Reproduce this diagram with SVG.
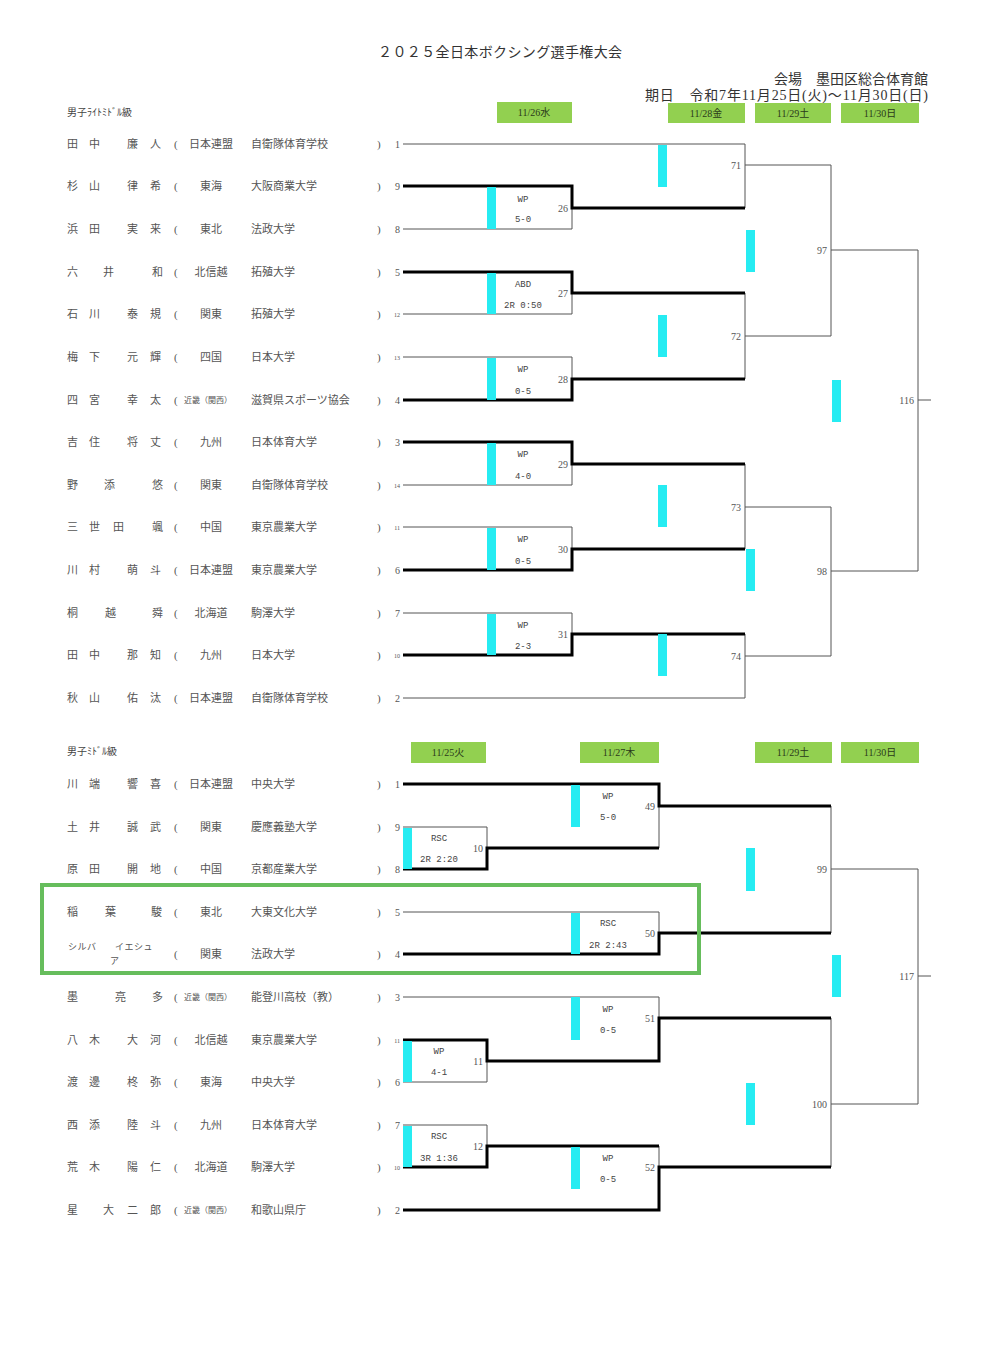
<svg xmlns="http://www.w3.org/2000/svg" width="985" height="1355" viewBox="0 0 985 1355">
<style>
text{font-family:"Liberation Serif","Noto Sans CJK JP",serif;fill:#555}
.nm{font-size:11px}
.p{font-size:11px}
.rg{font-size:11px;text-anchor:middle}
.rs{font-size:8px;text-anchor:middle}
.sc{font-size:11px}
.sd{font-size:10px;text-anchor:end}
.sd2{font-size:6px;text-anchor:end}
.ml{font-family:"Liberation Mono","Noto Sans CJK JP",monospace;font-size:9px;text-anchor:middle;fill:#444}
.mn{font-size:10px;text-anchor:end;fill:#555}
.dt{font-size:10px;text-anchor:middle;fill:#2a3a1a}
.db{fill:#92d050}
.thin{fill:none;stroke:#555;stroke-width:1}
.thick{fill:none;stroke:#000;stroke-width:3}
.cy{fill:#26ecf2}
.hdr{font-size:14px;fill:#333}
.cls{font-size:10px;fill:#444}
</style>
<rect width="985" height="1355" fill="#fff"/>

<g id="header">
<text class="hdr" x="378" y="57" textLength="244">２０２５全日本ボクシング選手権大会</text>
<text class="hdr" x="928" y="84" text-anchor="end">会場　墨田区総合体育館</text>
<text class="hdr" x="645" y="100" textLength="283">期日　令和7年11月25日(火)～11月30日(日)</text>
</g>

<g id="dates-top">
<rect class="db" x="497" y="102" width="75" height="21"/><text class="dt" x="534" y="116">11/26水</text>
<rect class="db" x="668" y="103" width="77" height="20"/><text class="dt" x="706" y="117">11/28金</text>
<rect class="db" x="755" y="103" width="76" height="20"/><text class="dt" x="793" y="117">11/29土</text>
<rect class="db" x="841" y="103" width="78" height="20"/><text class="dt" x="880" y="117">11/30日</text>
</g>
<g id="dates-bottom">
<rect class="db" x="411" y="742" width="75" height="21"/><text class="dt" x="448" y="756">11/25火</text>
<rect class="db" x="580" y="742" width="79" height="21"/><text class="dt" x="619" y="756">11/27木</text>
<rect class="db" x="755" y="742" width="77" height="21"/><text class="dt" x="793" y="756">11/29土</text>
<rect class="db" x="841" y="742" width="78" height="21"/><text class="dt" x="880" y="756">11/30日</text>
</g>

<text class="cls" x="67" y="116">男子ﾗｲﾄﾐﾄﾞﾙ級</text>
<text class="cls" x="67" y="755">男子ﾐﾄﾞﾙ級</text>

<g id="connectors">
<path class="thin" d="M403,144H745 M403,229H572V208 M403,314H572V293 M403,357H572V379 M403,485H572V464 M403,527H572V549 M403,613H572V634 M403,698H745V634 M745,144V208 M745,165H831 M745,293V379 M745,336H831 M745,464V549 M745,507H831 M745,656H831 M831,165V336 M831,250H918 M831,507V656 M831,571H918 M918,250V571 M918,400H931"/>
<path class="thick" d="M403,186H572V208H745 M403,272H572V293H745 M403,400H572V379H745 M403,442H572V464H745 M403,570H572V549H745 M403,655H572V634H745"/>
<path class="thin" d="M403,827H487V848 M659,806V848 M403,912H659V933 M831,806V933 M831,869H918 M403,997H659V1018 M403,1082H487V1061 M403,1125H487V1146 M659,1146V1167 M831,1018V1167 M831,1104H918 M918,869V1104 M918,976H931"/>
<path class="thick" d="M403,784H659V806H831 M403,869H487V848H659 M403,954H659V933H831 M403,1040H487V1061H659V1018H831 M403,1167H487V1146H659 M403,1210H659V1167H831"/>
</g>

<g id="bars">
<rect class="cy" x="487" y="187" width="9" height="42"/>
<rect class="cy" x="487" y="273" width="9" height="41"/>
<rect class="cy" x="487" y="358" width="9" height="42"/>
<rect class="cy" x="487" y="443" width="9" height="42"/>
<rect class="cy" x="487" y="528" width="9" height="42"/>
<rect class="cy" x="487" y="614" width="9" height="41"/>
<rect class="cy" x="658" y="145" width="9" height="42"/>
<rect class="cy" x="658" y="315" width="9" height="42"/>
<rect class="cy" x="658" y="485" width="9" height="42"/>
<rect class="cy" x="658" y="634" width="9" height="42"/>
<rect class="cy" x="746" y="230" width="9" height="42"/>
<rect class="cy" x="746" y="549" width="9" height="42"/>
<rect class="cy" x="832" y="380" width="9" height="42"/>
<rect class="cy" x="403" y="828" width="9" height="41"/>
<rect class="cy" x="403" y="1041" width="9" height="41"/>
<rect class="cy" x="403" y="1126" width="9" height="41"/>
<rect class="cy" x="571" y="785" width="9" height="42"/>
<rect class="cy" x="571" y="913" width="9" height="41"/>
<rect class="cy" x="571" y="997" width="9" height="43"/>
<rect class="cy" x="571" y="1147" width="9" height="42"/>
<rect class="cy" x="746" y="848" width="9" height="43"/>
<rect class="cy" x="746" y="1083" width="9" height="42"/>
<rect class="cy" x="832" y="955" width="9" height="42"/>
</g>

<g id="matches-top">
<g id="m26"><text class="ml" x="523" y="202">WP</text><text class="ml" x="523" y="222">5-0</text><text class="mn" x="568" y="212">26</text></g>
<g id="m27"><text class="ml" x="523" y="287">ABD</text><text class="ml" x="523" y="308">2R 0:50</text><text class="mn" x="568" y="297">27</text></g>
<g id="m28"><text class="ml" x="523" y="372">WP</text><text class="ml" x="523" y="394">0-5</text><text class="mn" x="568" y="383">28</text></g>
<g id="m29"><text class="ml" x="523" y="457">WP</text><text class="ml" x="523" y="479">4-0</text><text class="mn" x="568" y="468">29</text></g>
<g id="m30"><text class="ml" x="523" y="542">WP</text><text class="ml" x="523" y="564">0-5</text><text class="mn" x="568" y="553">30</text></g>
<g id="m31"><text class="ml" x="523" y="628">WP</text><text class="ml" x="523" y="649">2-3</text><text class="mn" x="568" y="638">31</text></g>
<g id="m71"><text class="mn" x="741" y="169">71</text></g>
<g id="m72"><text class="mn" x="741" y="340">72</text></g>
<g id="m73"><text class="mn" x="741" y="511">73</text></g>
<g id="m74"><text class="mn" x="741" y="660">74</text></g>
<g id="m97"><text class="mn" x="827" y="254">97</text></g>
<g id="m98"><text class="mn" x="827" y="575">98</text></g>
<g id="m116"><text class="mn" x="914" y="404">116</text></g>
</g>

<g id="matches-bottom">
<g id="m10"><text class="ml" x="439" y="841">RSC</text><text class="ml" x="439" y="862">2R 2:20</text><text class="mn" x="483" y="852">10</text></g>
<g id="m11"><text class="ml" x="439" y="1054">WP</text><text class="ml" x="439" y="1075">4-1</text><text class="mn" x="483" y="1065">11</text></g>
<g id="m12"><text class="ml" x="439" y="1139">RSC</text><text class="ml" x="439" y="1161">3R 1:36</text><text class="mn" x="483" y="1150">12</text></g>
<g id="m49"><text class="ml" x="608" y="799">WP</text><text class="ml" x="608" y="820">5-0</text><text class="mn" x="655" y="810">49</text></g>
<g id="m50"><text class="ml" x="608" y="926">RSC</text><text class="ml" x="608" y="948">2R 2:43</text><text class="mn" x="655" y="937">50</text></g>
<g id="m51"><text class="ml" x="608" y="1012">WP</text><text class="ml" x="608" y="1033">0-5</text><text class="mn" x="655" y="1022">51</text></g>
<g id="m52"><text class="ml" x="608" y="1161">WP</text><text class="ml" x="608" y="1182">0-5</text><text class="mn" x="655" y="1171">52</text></g>
<g id="m99"><text class="mn" x="827" y="873">99</text></g>
<g id="m100"><text class="mn" x="827" y="1108">100</text></g>
<g id="m117"><text class="mn" x="914" y="980">117</text></g>
</g>

<g id="entries-top">
<g id="lm1"><text class="nm" x="67 89 127 150" y="148">田中廉人</text><text class="p" x="174" y="148">(</text><text class="rg" x="211" y="148">日本連盟</text><text class="sc" x="251" y="148">自衛隊体育学校</text><text class="p" x="377" y="148">)</text><text class="sd" x="400" y="148">1</text></g>
<g id="lm9"><text class="nm" x="67 89 127 150" y="190">杉山律希</text><text class="p" x="174" y="190">(</text><text class="rg" x="211" y="190">東海</text><text class="sc" x="251" y="190">大阪商業大学</text><text class="p" x="377" y="190">)</text><text class="sd" x="400" y="190">9</text></g>
<g id="lm8"><text class="nm" x="67 89 127 150" y="233">浜田実来</text><text class="p" x="174" y="233">(</text><text class="rg" x="211" y="233">東北</text><text class="sc" x="251" y="233">法政大学</text><text class="p" x="377" y="233">)</text><text class="sd" x="400" y="233">8</text></g>
<g id="lm5"><text class="nm" x="67 103 152" y="276">六井和</text><text class="p" x="174" y="276">(</text><text class="rg" x="211" y="276">北信越</text><text class="sc" x="251" y="276">拓殖大学</text><text class="p" x="377" y="276">)</text><text class="sd" x="400" y="276">5</text></g>
<g id="lm12"><text class="nm" x="67 89 127 150" y="318">石川泰規</text><text class="p" x="174" y="318">(</text><text class="rg" x="211" y="318">関東</text><text class="sc" x="251" y="318">拓殖大学</text><text class="p" x="377" y="318">)</text><text class="sd2" x="400" y="317">12</text></g>
<g id="lm13"><text class="nm" x="67 89 127 150" y="361">梅下元輝</text><text class="p" x="174" y="361">(</text><text class="rg" x="211" y="361">四国</text><text class="sc" x="251" y="361">日本大学</text><text class="p" x="377" y="361">)</text><text class="sd2" x="400" y="360">13</text></g>
<g id="lm4"><text class="nm" x="67 89 127 150" y="404">四宮幸太</text><text class="p" x="174" y="404">(</text><text class="rs" x="208" y="403">近畿（関西）</text><text class="sc" x="251" y="404">滋賀県スポーツ協会</text><text class="p" x="377" y="404">)</text><text class="sd" x="400" y="404">4</text></g>
<g id="lm3"><text class="nm" x="67 89 127 150" y="446">吉住将丈</text><text class="p" x="174" y="446">(</text><text class="rg" x="211" y="446">九州</text><text class="sc" x="251" y="446">日本体育大学</text><text class="p" x="377" y="446">)</text><text class="sd" x="400" y="446">3</text></g>
<g id="lm14"><text class="nm" x="67 104 152" y="489">野添悠</text><text class="p" x="174" y="489">(</text><text class="rg" x="211" y="489">関東</text><text class="sc" x="251" y="489">自衛隊体育学校</text><text class="p" x="377" y="489">)</text><text class="sd2" x="400" y="488">14</text></g>
<g id="lm11"><text class="nm" x="67 89 113 152" y="531">三世田颯</text><text class="p" x="174" y="531">(</text><text class="rg" x="211" y="531">中国</text><text class="sc" x="251" y="531">東京農業大学</text><text class="p" x="377" y="531">)</text><text class="sd2" x="400" y="530">11</text></g>
<g id="lm6"><text class="nm" x="67 89 127 150" y="574">川村萌斗</text><text class="p" x="174" y="574">(</text><text class="rg" x="211" y="574">日本連盟</text><text class="sc" x="251" y="574">東京農業大学</text><text class="p" x="377" y="574">)</text><text class="sd" x="400" y="574">6</text></g>
<g id="lm7"><text class="nm" x="67 105 152" y="617">桐越舜</text><text class="p" x="174" y="617">(</text><text class="rg" x="211" y="617">北海道</text><text class="sc" x="251" y="617">駒澤大学</text><text class="p" x="377" y="617">)</text><text class="sd" x="400" y="617">7</text></g>
<g id="lm10"><text class="nm" x="67 89 127 150" y="659">田中那知</text><text class="p" x="174" y="659">(</text><text class="rg" x="211" y="659">九州</text><text class="sc" x="251" y="659">日本大学</text><text class="p" x="377" y="659">)</text><text class="sd2" x="400" y="658">10</text></g>
<g id="lm2"><text class="nm" x="67 89 127 150" y="702">秋山佑汰</text><text class="p" x="174" y="702">(</text><text class="rg" x="211" y="702">日本連盟</text><text class="sc" x="251" y="702">自衛隊体育学校</text><text class="p" x="377" y="702">)</text><text class="sd" x="400" y="702">2</text></g>
</g>

<g id="entries-bottom">
<g id="md1"><text class="nm" x="67 89 127 150" y="788">川端響喜</text><text class="p" x="174" y="788">(</text><text class="rg" x="211" y="788">日本連盟</text><text class="sc" x="251" y="788">中央大学</text><text class="p" x="377" y="788">)</text><text class="sd" x="400" y="788">1</text></g>
<g id="md9"><text class="nm" x="67 89 127 150" y="831">土井誠武</text><text class="p" x="174" y="831">(</text><text class="rg" x="211" y="831">関東</text><text class="sc" x="251" y="831">慶應義塾大学</text><text class="p" x="377" y="831">)</text><text class="sd" x="400" y="831">9</text></g>
<g id="md8"><text class="nm" x="67 89 127 150" y="873">原田開地</text><text class="p" x="174" y="873">(</text><text class="rg" x="211" y="873">中国</text><text class="sc" x="251" y="873">京都産業大学</text><text class="p" x="377" y="873">)</text><text class="sd" x="400" y="873">8</text></g>
<g id="md5"><text class="nm" x="67 105 151" y="916">稲葉駿</text><text class="p" x="174" y="916">(</text><text class="rg" x="211" y="916">東北</text><text class="sc" x="251" y="916">大東文化大学</text><text class="p" x="377" y="916">)</text><text class="sd" x="400" y="916">5</text></g>
<g id="md4"><text class="nm" style="font-size:9px" x="68" y="950" letter-spacing="0.5">シルバ</text><text class="nm" style="font-size:9px" x="115" y="950" letter-spacing="0.5">イエシュ</text><text class="nm" style="font-size:9px" x="110" y="964">ア</text><text class="p" x="174" y="958">(</text><text class="rg" x="211" y="958">関東</text><text class="sc" x="251" y="958">法政大学</text><text class="p" x="377" y="958">)</text><text class="sd" x="400" y="958">4</text></g>
<g id="md3"><text class="nm" x="67 115 152" y="1001">墨亮多</text><text class="p" x="174" y="1001">(</text><text class="rs" x="208" y="1000">近畿（関西）</text><text class="sc" x="251" y="1001">能登川高校（教）</text><text class="p" x="377" y="1001">)</text><text class="sd" x="400" y="1001">3</text></g>
<g id="md11"><text class="nm" x="67 89 127 150" y="1044">八木大河</text><text class="p" x="174" y="1044">(</text><text class="rg" x="211" y="1044">北信越</text><text class="sc" x="251" y="1044">東京農業大学</text><text class="p" x="377" y="1044">)</text><text class="sd2" x="400" y="1043">11</text></g>
<g id="md6"><text class="nm" x="67 89 127 150" y="1086">渡邊柊弥</text><text class="p" x="174" y="1086">(</text><text class="rg" x="211" y="1086">東海</text><text class="sc" x="251" y="1086">中央大学</text><text class="p" x="377" y="1086">)</text><text class="sd" x="400" y="1086">6</text></g>
<g id="md7"><text class="nm" x="67 89 127 150" y="1129">西添陸斗</text><text class="p" x="174" y="1129">(</text><text class="rg" x="211" y="1129">九州</text><text class="sc" x="251" y="1129">日本体育大学</text><text class="p" x="377" y="1129">)</text><text class="sd" x="400" y="1129">7</text></g>
<g id="md10"><text class="nm" x="67 89 127 150" y="1171">荒木陽仁</text><text class="p" x="174" y="1171">(</text><text class="rg" x="211" y="1171">北海道</text><text class="sc" x="251" y="1171">駒澤大学</text><text class="p" x="377" y="1171">)</text><text class="sd2" x="400" y="1170">10</text></g>
<g id="md2"><text class="nm" x="67 103 127 150" y="1214">星大二郎</text><text class="p" x="174" y="1214">(</text><text class="rs" x="208" y="1213">近畿（関西）</text><text class="sc" x="251" y="1214">和歌山県庁</text><text class="p" x="377" y="1214">)</text><text class="sd" x="400" y="1214">2</text></g>
</g>

<rect id="highlight" x="42" y="885" width="657" height="88" fill="none" stroke="#66bd5c" stroke-width="4"/>
</svg>
